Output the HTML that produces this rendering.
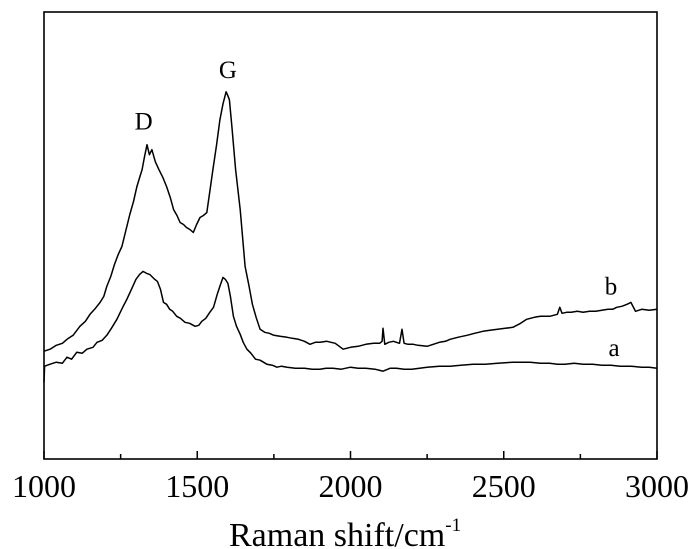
<!DOCTYPE html>
<html><head><meta charset="utf-8"><style>
html,body{margin:0;padding:0;background:#fff;}
svg{display:block;font-family:"Liberation Serif",serif;}
</style></head><body>
<svg id="chart" width="700" height="549" viewBox="0 0 700 549">
<g id="plot"></g>
</svg>
<script>
const xTicks = [1000,1500,2000,2500,3000];
const xMinor = [1250,1750,2250,2750];
const shiftA = [1000,1002,1020,1040,1060,1075,1090,1107,1125,1140,1160,1173,1190,1205,1220,1238,1255,1270,1285,1300,1312,1323,1335,1345,1358,1370,1380,1390,1400,1410,1420,1433,1445,1460,1475,1493,1505,1515,1528,1541,1553,1565,1575,1584,1592,1600,1608,1618,1628,1640,1650,1662,1675,1690,1705,1727,1745,1760,1775,1793,1820,1850,1875,1900,1920,1943,1970,2000,2025,2050,2080,2106,2130,2150,2175,2200,2225,2250,2290,2325,2360,2400,2440,2480,2530,2586,2620,2650,2675,2700,2730,2759,2790,2820,2850,2880,2915,2950,2975,3000];
const intensA = [77,93,95,97,96,102,100,107,106,110,112,117,119,124,131,140,151,160,170,180,185,188,186,185,181,178,170,157,155,150,148,143,141,137,136,133,134,138,141,147,152,165,174,182,180,176,163,143,133,125,117,110,106,100,99,95,94,92,93,92,91,91,90,90,91,91,90,92,91,91,90,88,91,91,90,90,91,92,93,93,94,95,95,96,97,97,96,96,95,95,96,95,95,94,94,93,93,92,92,91];
const shiftB = [1000,1020,1040,1060,1075,1095,1117,1135,1150,1165,1183,1195,1205,1218,1230,1242,1254,1268,1280,1292,1303,1312,1320,1328,1336,1344,1352,1363,1375,1388,1400,1412,1423,1434,1444,1455,1465,1476,1487,1498,1509,1520,1531,1541,1551,1563,1574,1584,1594,1600,1605,1613,1625,1640,1656,1668,1680,1692,1705,1720,1735,1750,1770,1793,1810,1830,1850,1868,1885,1900,1923,1950,1976,2000,2025,2050,2075,2095,2103,2106,2112,2125,2140,2160,2168,2175,2188,2205,2220,2250,2270,2290,2310,2325,2350,2380,2405,2432,2455,2480,2505,2530,2555,2575,2600,2620,2650,2675,2683,2690,2705,2720,2740,2759,2780,2800,2820,2840,2855,2869,2885,2902,2915,2930,2950,2975,3000];
const intensB = [108,110,114,116,120,124,133,138,145,150,157,163,173,183,195,205,213,230,245,258,273,282,290,303,315,305,310,298,290,282,273,262,250,244,237,235,232,230,227,235,242,244,247,268,290,315,340,356,368,364,360,333,290,250,193,175,155,142,130,127,126,124,123,122,121,120,118,115,117,117,118,116,110,112,113,115,116,116,118,131,115,117,118,116,130,116,115,115,114,113,115,117,118,120,122,124,126,128,129,130,131,132,136,140,142,143,143,145,152,146,147,147,148,147,148,148,149,150,150,152,153,155,157,148,150,149,150,148,147];
const labels = [{t:"D",x:1325,y:330},{t:"G",x:1600,y:382},{t:"b",x:2850,y:165},{t:"a",x:2860,y:103}];

const L=44,R=657,T=12,B=459;
const xs = v => L + (v-1000)/(3000-1000)*(R-L);
const ys = v => B - v/448*(B-T);
const g = document.getElementById('plot');
const NS='http://www.w3.org/2000/svg';
function mk(tag, attrs){const e=document.createElementNS(NS,tag);for(const k in attrs)e.setAttribute(k,attrs[k]);g.appendChild(e);return e;}

function series(xsArr, ysArr, name){
  let d='';
  for(let i=0;i<xsArr.length;i++) d += (i?'L':'M')+xs(xsArr[i]).toFixed(1)+','+ys(ysArr[i]).toFixed(1);
  const p = mk('path',{d:d,fill:'none',stroke:'#000','stroke-width':1.5,'stroke-linejoin':'round'});
  
  
}
series(shiftA,intensA,'series-a-line');
series(shiftB,intensB,'series-b-line');

const frame = mk('rect',{x:L,y:T,width:R-L,height:B-T,fill:'none',stroke:'#000','stroke-width':1.6});



xTicks.forEach(v=>{
  const t = mk('line',{x1:xs(v),x2:xs(v),y1:B,y2:B-8,stroke:'#000','stroke-width':1.5});
  
  
  const tx = mk('text',{x:xs(v),y:497,'font-size':32,'text-anchor':'middle',fill:'#000'});
  tx.textContent = v;
  
  
});
xMinor.forEach(v=>{
  const t = mk('line',{x1:xs(v),x2:xs(v),y1:B,y2:B-5,stroke:'#000','stroke-width':1.5});
  
  
});
labels.forEach(l=>{
  const tx = mk('text',{x:xs(l.x),y:ys(l.y),'font-size':25,'text-anchor':'middle',fill:'#000'});
  tx.textContent = l.t;
  
  
});
const title = mk('text',{x:229,y:546,'font-size':34,fill:'#000'});


title.appendChild(document.createTextNode('Raman shift/cm'));
const sup = document.createElementNS(NS,'tspan');
sup.setAttribute('font-size','19');
sup.setAttribute('dy','-15');
sup.textContent='-1';
title.appendChild(sup);
</script>
</body></html>
